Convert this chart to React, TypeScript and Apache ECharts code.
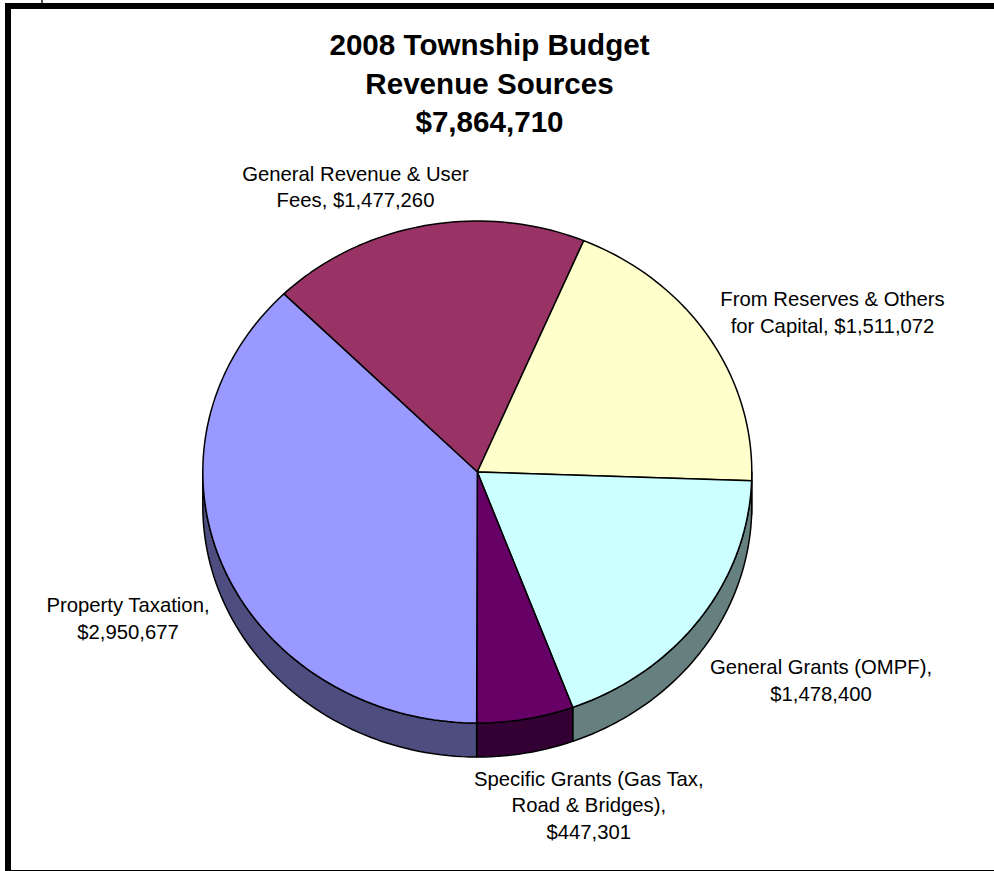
import React, { useEffect, useRef } from "react";
import * as echarts from "echarts";

const titleLines = ["2008 Township Budget", "Revenue Sources", "$7,864,710"];
const categories = [
  "General Revenue & User\nFees, ",
  "From Reserves & Others\nfor Capital, ",
  "General Grants (OMPF),\n",
  "Specific Grants (Gas Tax,\nRoad & Bridges),\n",
  "Property Taxation,\n",
];
const values = [1477260, 1511072, 1478400, 447301, 2950677];
const faceColors = ["#993366", "#FFFFCC", "#CCFFFF", "#660066", "#9999FF"];
const sideColors = ["#4D1A33", "#808066", "#668080", "#330033", "#4D4D80"];

// Layout, kept apart from the data
const CX = 477.3;
const CY = 472;
const RX = 274.5;
const RY = 251;
const DEPTH = 34;
const START_DEG = 315.2;
const labelCentres: [number, number][] = [
  [355.5, 187],
  [832.5, 312.5],
  [821, 680.5],
  [588.8, 805],
  [128, 618.5],
];

const money = (v: number) => "$" + v.toLocaleString("en-US");
const total = values.reduce((a, b) => a + b, 0);
const pt = (deg: number, dy = 0): [number, number] => {
  const a = (deg * Math.PI) / 180;
  return [CX + RX * Math.sin(a), CY + dy - RY * Math.cos(a)];
};
const arc = (from: number, to: number, dy = 0) => {
  const n = Math.max(2, Math.ceil(Math.abs(to - from) / 1.5));
  const out: [number, number][] = [];
  for (let i = 0; i <= n; i++) out.push(pt(from + ((to - from) * i) / n, dy));
  return out;
};

function wallParts(from: number, to: number) {
  // the visible wall lies between 90 and 270 degrees, from the top, clockwise
  const parts: [number, number][] = [];
  for (const shift of [0, 360]) {
    const a = Math.max(from, 90 + shift);
    const b = Math.min(to, 270 + shift);
    if (b > a) parts.push([a, b]);
  }
  return parts;
}

const rows = values.map((v, i) => {
  const before = values.slice(0, i).reduce((a, b) => a + b, 0);
  return [i, START_DEG + (before / total) * 360, START_DEG + ((before + v) / total) * 360];
});

export default function App() {
  const ref = useRef<HTMLDivElement>(null);
  useEffect(() => {
    document.body.style.margin = "0";
    document.body.style.background = "#fff";
    const chart = echarts.init(ref.current!, undefined, { renderer: "svg" });
    chart.setOption({
      animation: false,
      backgroundColor: "#fff",
      graphic: [
        { type: "rect", shape: { x: 41, y: 0, width: 2, height: 3 }, style: { fill: "#555" } },
        { type: "rect", shape: { x: 5, y: 3, width: 6, height: 868 }, style: { fill: "#000" } },
        { type: "rect", shape: { x: 5, y: 3, width: 989, height: 6 }, style: { fill: "#000" } },
        { type: "rect", shape: { x: 5, y: 870, width: 989, height: 1 }, style: { fill: "#000" } },
        ...titleLines.map((t, i) => ({
          type: "text",
          x: 489.5,
          y: 44.3 + i * 38.7,
          style: {
            text: t,
            fill: "#000",
            font: 'bold 29.6px "Liberation Sans", Arial, sans-serif',
            textAlign: "center",
            textVerticalAlign: "middle",
          },
        })),
        ...categories.map((c, i) => ({
          type: "text",
          x: labelCentres[i][0],
          y: labelCentres[i][1],
          style: {
            text: c + money(values[i]),
            fill: "#000",
            font: '20.3px "Liberation Sans", Arial, sans-serif',
            lineHeight: 26.5,
            align: "center",
            verticalAlign: "middle",
            textAlign: "center",
            textVerticalAlign: "middle",
          },
        })),
      ],
      series: [
        {
          type: "custom",
          coordinateSystem: "none",
          data: rows,
          clip: false,
          renderItem: (_: any, api: any) => {
            const from = api.value(1);
            const to = api.value(2);
            const idx = api.value(0);
            const lineStyle = { stroke: "#000", lineWidth: 1.5, lineJoin: "round" };
            const walls = wallParts(from, to).map(([a, b]) => ({
              type: "polygon",
              z2: 1,
              shape: { points: [...arc(a, b), ...arc(b, a, DEPTH)] },
              style: { fill: sideColors[idx], ...lineStyle },
            }));
            const face = {
              type: "polygon",
              z2: 2,
              shape: { points: [[CX, CY], ...arc(from, to)] },
              style: { fill: faceColors[idx], ...lineStyle },
            };
            return { type: "group", children: [...walls, face] };
          },
        },
      ],
    });
    return () => chart.dispose();
  }, []);
  return <div ref={ref} style={{ position: "absolute", left: 0, top: 0, width: 994, height: 871 }} />;
}
